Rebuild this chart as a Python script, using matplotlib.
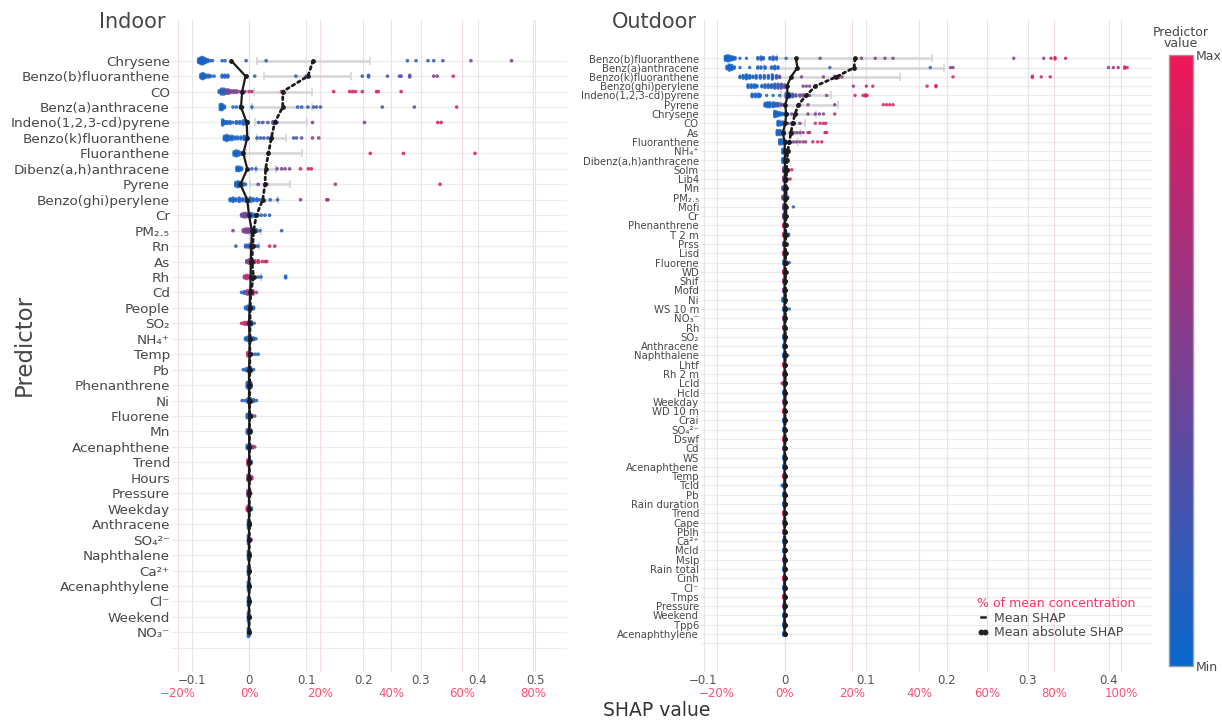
import numpy as np
import matplotlib as mpl
import matplotlib.pyplot as plt
from matplotlib.colors import LinearSegmentedColormap, Normalize
from matplotlib.lines import Line2D

plt.rcParams['font.family'] = 'DejaVu Sans'

# ---------------- indoor panel ----------------
indoor_labels = ["Chrysene", "Benzo(b)fluoranthene", "CO", "Benz(a)anthracene",
                 "Indeno(1,2,3-cd)pyrene", "Benzo(k)fluoranthene", "Fluoranthene",
                 "Dibenz(a,h)anthracene", "Pyrene", "Benzo(ghi)perylene", "Cr",
                 "PM₂.₅", "Rn", "As", "Rh", "Cd", "People", "SO₂", "NH₄⁺",
                 "Temp", "Pb", "Phenanthrene", "Ni", "Fluorene", "Mn", "Acenaphthene",
                 "Trend", "Hours", "Pressure", "Weekday", "Anthracene", "SO₄²⁻",
                 "Naphthalene", "Ca²⁺", "Acenaphthylene", "Cl⁻", "Weekend", "NO₃⁻"]

indoor_mean_shap = [-0.031, -0.006, -0.012, -0.014, -0.004, -0.003, -0.010, -0.003, -0.015, -0.003,
                    0.000, 0.005, 0.004, 0.003, 0.003, 0.002, 0.001, 0.000, 0.001, 0.001,
                    0.000, 0.000, 0.000, 0.001, 0.000, 0.0005, 0.000, 0.000, 0.000, 0.000,
                    0.000, 0.000, 0.000, 0.000, 0.000, 0.000, 0.000, 0.000]

indoor_mean_abs = [0.112, 0.103, 0.059, 0.059, 0.045, 0.039, 0.034, 0.029, 0.028, 0.024,
                   0.013, 0.008, 0.0065, 0.005, 0.008, 0.003, 0.002, 0.0018, 0.0016, 0.0015,
                   0.0013, 0.0012, 0.0011, 0.001, 0.0009, 0.0008, 0.0007, 0.0007, 0.0006, 0.0006,
                   0.0005, 0.0005, 0.0004, 0.0004, 0.0003, 0.0003, 0.0002, 0.0002]

nan = np.nan
indoor_bar_lo = [0.014, 0.026, 0.009, 0.005, 0.010, 0.014, -0.005, 0.012, 0.002, 0.005,
                 nan, 0.000, 0.000, nan, 0.000] + [nan] * 23
indoor_bar_hi = [0.212, 0.179, 0.111, 0.111, 0.101, 0.064, 0.092, 0.048, 0.071, 0.050,
                 nan, 0.021, 0.017, nan, 0.021] + [nan] * 23

# dots per row: (SHAP value, predictor value 0..1, number of stacked samples)
indoor_dots = [
    [(-0.088, 0.05, 3), (-0.085, 0.05, 4), (-0.082, 0.08, 5), (-0.079, 0.08, 4), (-0.076, 0.1, 3),
     (-0.072, 0.1, 2), (-0.068, 0.1, 1), (-0.064, 0.1, 1), (-0.047, 0.1, 1), (-0.042, 0.1, 1),
     (-0.005, 0.15, 1), (0.03, 0.15, 1), (0.277, 0.15, 1), (0.292, 0.15, 1), (0.313, 0.18, 1),
     (0.323, 0.18, 1), (0.339, 0.2, 1), (0.388, 0.45, 1), (0.459, 0.5, 1)],
    [(-0.084, 0.05, 3), (-0.081, 0.05, 4), (-0.078, 0.08, 3), (-0.074, 0.08, 2), (-0.07, 0.1, 2),
     (-0.066, 0.1, 1), (-0.061, 0.1, 1), (-0.047, 0.1, 2), (-0.042, 0.1, 2), (-0.037, 0.1, 2),
     (-0.004, 0.15, 1), (0.01, 0.15, 1), (0.082, 0.2, 1), (0.1, 0.2, 1), (0.198, 0.2, 1),
     (0.209, 0.2, 2), (0.242, 0.25, 1), (0.263, 0.25, 1), (0.266, 0.3, 1), (0.281, 0.35, 2),
     (0.323, 0.55, 1), (0.329, 0.55, 1), (0.357, 0.9, 1)],
    [(-0.052, 0.1, 2), (-0.048, 0.1, 4), (-0.044, 0.2, 4), (-0.04, 0.3, 3), (-0.036, 0.45, 3),
     (-0.032, 0.5, 2), (-0.027, 0.5, 2), (-0.022, 0.55, 2), (-0.017, 0.5, 1), (-0.012, 0.6, 1),
     (-0.007, 0.65, 1), (0.0, 0.7, 1), (0.005, 0.8, 1), (0.057, 0.85, 1), (0.148, 0.9, 1),
     (0.176, 0.95, 1), (0.181, 0.9, 1), (0.186, 0.95, 1), (0.198, 0.9, 1), (0.223, 0.95, 1),
     (0.226, 0.9, 1), (0.266, 0.9, 1)],
    [(-0.05, 0.05, 4), (-0.047, 0.05, 4), (-0.043, 0.08, 2), (-0.028, 0.1, 1), (-0.022, 0.1, 1),
     (-0.015, 0.1, 2), (-0.011, 0.1, 1), (0.005, 0.15, 1), (0.085, 0.15, 1), (0.092, 0.15, 1),
     (0.103, 0.2, 1), (0.113, 0.2, 1), (0.118, 0.2, 1), (0.125, 0.2, 1), (0.233, 0.25, 1),
     (0.289, 0.3, 1), (0.363, 0.9, 1)],
    [(-0.046, 0.05, 4), (-0.042, 0.05, 2), (-0.038, 0.1, 2), (-0.033, 0.1, 2), (-0.028, 0.1, 1),
     (-0.022, 0.1, 2), (-0.016, 0.1, 2), (-0.01, 0.1, 3), (-0.005, 0.1, 3), (-0.002, 0.1, 2),
     (0.017, 0.15, 1), (0.024, 0.2, 1), (0.033, 0.3, 1), (0.042, 0.4, 2), (0.049, 0.45, 1),
     (0.111, 0.55, 1), (0.202, 0.55, 1), (0.33, 0.85, 1), (0.336, 0.85, 1)],
    [(-0.043, 0.05, 3), (-0.039, 0.05, 4), (-0.035, 0.08, 3), (-0.03, 0.1, 3), (-0.025, 0.1, 2),
     (-0.02, 0.1, 2), (-0.014, 0.1, 2), (-0.008, 0.1, 3), (-0.003, 0.1, 2), (0.014, 0.15, 1),
     (0.02, 0.15, 1), (0.026, 0.2, 1), (0.033, 0.2, 1), (0.04, 0.2, 2), (0.078, 0.25, 1),
     (0.083, 0.25, 1), (0.092, 0.3, 1), (0.111, 0.7, 1), (0.122, 0.55, 1)],
    [(-0.026, 0.05, 3), (-0.022, 0.05, 4), (-0.018, 0.08, 3), (-0.013, 0.1, 2), (0.212, 0.9, 1),
     (0.27, 0.9, 1), (0.395, 0.9, 1)],
    [(-0.021, 0.05, 3), (-0.017, 0.05, 3), (-0.013, 0.1, 2), (0.005, 0.15, 1), (0.012, 0.15, 1),
     (0.049, 0.45, 1), (0.057, 0.5, 1), (0.063, 0.5, 1), (0.071, 0.45, 1), (0.09, 0.9, 1),
     (0.104, 0.85, 1), (0.109, 0.9, 1)],
    [(-0.023, 0.05, 3), (-0.019, 0.05, 4), (-0.015, 0.08, 3), (-0.01, 0.1, 2), (-0.006, 0.1, 1),
     (0.016, 0.5, 1), (0.031, 0.5, 1), (0.151, 0.6, 1), (0.334, 0.9, 1)],
    [(-0.033, 0.05, 2), (-0.028, 0.05, 3), (-0.023, 0.08, 2), (-0.017, 0.1, 3), (-0.011, 0.1, 2),
     (-0.005, 0.1, 3), (0.002, 0.1, 3), (0.008, 0.1, 2), (0.014, 0.1, 2), (0.019, 0.1, 1),
     (0.037, 0.15, 1), (0.05, 0.15, 1), (0.09, 0.55, 1), (0.136, 0.85, 1), (0.138, 0.6, 1)],
    [(-0.013, 0.3, 2), (-0.009, 0.5, 3), (-0.005, 0.4, 3), (-0.001, 0.1, 2), (0.004, 0.1, 3),
     (0.009, 0.1, 2), (0.016, 0.1, 1), (0.022, 0.1, 1), (0.028, 0.1, 1), (0.036, 0.1, 1)],
    [(-0.028, 0.55, 1), (-0.01, 0.5, 2), (-0.006, 0.5, 3), (-0.002, 0.5, 3), (0.003, 0.2, 3),
     (0.008, 0.1, 3), (0.013, 0.15, 2), (0.019, 0.1, 1), (0.057, 0.1, 1)],
    [(-0.023, 0.1, 1), (-0.006, 0.1, 2), (-0.002, 0.1, 2), (0.003, 0.5, 3), (0.008, 0.7, 2),
     (0.012, 0.3, 1), (0.016, 0.2, 1), (0.036, 0.85, 1), (0.045, 0.7, 1)],
    [(-0.004, 0.5, 2), (0.0, 0.6, 3), (0.005, 0.8, 3), (0.01, 0.85, 2), (0.016, 0.9, 2),
     (0.023, 0.9, 1), (0.028, 0.85, 1), (0.031, 0.9, 1)],
    [(-0.008, 0.6, 2), (-0.004, 0.85, 3), (0.0, 0.7, 2), (0.003, 0.4, 2), (0.016, 0.2, 1),
     (0.021, 0.1, 1), (0.064, 0.05, 2)],
    [(-0.013, 0.1, 1), (-0.008, 0.2, 2), (-0.003, 0.6, 3), (0.002, 0.9, 4), (0.007, 0.85, 3),
     (0.013, 0.6, 1)],
    [(-0.006, 0.1, 2), (-0.002, 0.1, 3), (0.003, 0.15, 3), (0.008, 0.1, 2)],
    [(-0.013, 0.9, 1), (-0.008, 0.85, 2), (-0.004, 0.7, 2), (0.0, 0.3, 3), (0.004, 0.15, 3),
     (0.009, 0.1, 1)],
    [(-0.006, 0.1, 2), (-0.002, 0.1, 3), (0.003, 0.1, 3), (0.008, 0.15, 2), (0.012, 0.1, 1)],
    [(-0.002, 0.8, 3), (0.002, 0.6, 2), (0.006, 0.2, 1), (0.011, 0.1, 1), (0.016, 0.1, 1)],
    [(-0.01, 0.1, 1), (-0.005, 0.1, 2), (-0.001, 0.1, 3), (0.003, 0.1, 3), (0.008, 0.1, 1)],
    [(-0.003, 0.1, 4), (0.0, 0.1, 5), (0.003, 0.1, 4)],
    [(-0.012, 0.2, 1), (-0.007, 0.1, 1), (-0.002, 0.1, 3), (0.003, 0.1, 3), (0.008, 0.1, 2),
     (0.013, 0.1, 1)],
    [(-0.003, 0.1, 3), (0.001, 0.1, 4), (0.005, 0.3, 2), (0.01, 0.55, 1)],
    [(-0.003, 0.3, 3), (0.0, 0.2, 4), (0.003, 0.1, 3)],
    [(-0.003, 0.1, 3), (0.001, 0.2, 4), (0.006, 0.7, 2), (0.01, 0.6, 1)],
    [(-0.002, 0.85, 4), (0.001, 0.5, 4), (0.004, 0.2, 2)],
    [(-0.002, 0.6, 4), (0.001, 0.5, 4), (0.005, 0.85, 2)],
    [(-0.002, 0.6, 4), (0.001, 0.5, 5), (0.003, 0.3, 1)],
    [(-0.003, 0.85, 3), (0.0, 0.5, 5), (0.004, 0.1, 2)],
    [(-0.001, 0.1, 6), (0.002, 0.1, 3)],
    [(-0.001, 0.1, 6), (0.002, 0.3, 2), (0.004, 0.9, 1)],
    [(-0.001, 0.1, 6), (0.002, 0.1, 3)],
    [(-0.001, 0.1, 6), (0.001, 0.1, 4)],
    [(-0.001, 0.1, 6), (0.001, 0.1, 4)],
    [(-0.001, 0.1, 6), (0.001, 0.1, 4)],
    [(-0.001, 0.1, 6), (0.001, 0.5, 3)],
    [(-0.001, 0.1, 6), (0.001, 0.1, 4)],
]

# ---------------- outdoor panel ----------------
outdoor_labels = ["Benzo(b)fluoranthene", "Benz(a)anthracene", "Benzo(k)fluoranthene",
                  "Benzo(ghi)perylene", "Indeno(1,2,3-cd)pyrene", "Pyrene", "Chrysene", "CO",
                  "As", "Fluoranthene", "NH₄⁺", "Dibenz(a,h)anthracene", "Solm", "Lib4",
                  "Mn", "PM₂.₅", "Mofi", "Cr", "Phenanthrene", "T 2 m", "Prss", "Lisd",
                  "Fluorene", "WD", "Shif", "Mofd", "Ni", "WS 10 m", "NO₃⁻", "Rh",
                  "SO₂", "Anthracene", "Naphthalene", "Lhtf", "Rh 2 m", "Lcld", "Hcld",
                  "Weekday", "WD 10 m", "Crai", "SO₄²⁻", "Dswf", "Cd", "WS",
                  "Acenaphthene", "Temp", "Tcld", "Pb", "Rain duration", "Trend", "Cape",
                  "Pblh", "Ca²⁺", "Mcld", "Mslp", "Rain total", "Cinh", "Cl⁻", "Tmps",
                  "Pressure", "Weekend", "Tpp6", "Acenaphthylene"]

outdoor_mean_shap = [0.014, 0.016, 0.008, 0.003, 0.004, 0.001, 0.002, 0.001, -0.002, 0.000,
                     0.0005, 0.0005, 0.0005, 0.0004, 0.0003, 0.0003, 0.0003, 0.0002, 0.0002, 0.0002] + [0.0] * 43

outdoor_mean_abs = [0.087, 0.086, 0.064, 0.038, 0.027, 0.017, 0.013, 0.010, 0.008, 0.006,
                    0.004, 0.003, 0.0026, 0.0023, 0.002, 0.0019, 0.0018, 0.0017, 0.0016, 0.0015,
                    0.0014, 0.0014, 0.0013, 0.0013, 0.0012, 0.0012, 0.0011, 0.0011, 0.001, 0.001,
                    0.001, 0.0009, 0.0009, 0.0009, 0.0008, 0.0008, 0.0008, 0.0007, 0.0007, 0.0007,
                    0.0006, 0.0006, 0.0006, 0.0005, 0.0005, 0.0005, 0.0005, 0.0004, 0.0004, 0.0004,
                    0.0004, 0.0003, 0.0003, 0.0003, 0.0003, 0.0003, 0.0002, 0.0002, 0.0002, 0.0002,
                    0.0002, 0.0002, 0.0002]

outdoor_bar_lo = [-0.009, -0.025, -0.015, nan, -0.004, -0.005, -0.010, -0.005, -0.004, -0.004] + [nan] * 53
outdoor_bar_hi = [0.182, 0.197, 0.143, nan, 0.058, 0.066, 0.039, 0.025, 0.020, 0.017] + [nan] * 53

blue_pair = [(-0.001, 0.1, 3), (0.001, 0.1, 3)]
outdoor_dots = [
    [(-0.073, 0.05, 4), (-0.07, 0.05, 5), (-0.067, 0.05, 4), (-0.064, 0.05, 3), (-0.061, 0.08, 2),
     (-0.055, 0.1, 1), (-0.047, 0.1, 1), (-0.033, 0.1, 2), (-0.029, 0.1, 3), (-0.026, 0.1, 2),
     (-0.018, 0.1, 2), (-0.014, 0.12, 3), (-0.01, 0.15, 2), (0.002, 0.2, 1), (0.044, 0.35, 1),
     (0.095, 0.5, 1), (0.112, 0.5, 1), (0.124, 0.5, 1), (0.134, 0.5, 1), (0.283, 0.5, 1),
     (0.32, 0.6, 1), (0.329, 0.85, 1), (0.334, 0.9, 2), (0.347, 0.85, 1)],
    [(-0.071, 0.05, 3), (-0.068, 0.05, 5), (-0.065, 0.05, 4), (-0.062, 0.08, 2), (-0.055, 0.1, 1),
     (-0.043, 0.1, 1), (-0.033, 0.1, 2), (-0.029, 0.1, 2), (-0.024, 0.1, 2), (-0.016, 0.1, 2),
     (-0.012, 0.1, 3), (-0.008, 0.12, 2), (0.056, 0.2, 1), (0.18, 0.2, 1), (0.205, 0.5, 1),
     (0.208, 0.55, 1), (0.4, 0.5, 1), (0.406, 0.55, 1), (0.412, 0.9, 1), (0.42, 0.9, 2),
     (0.423, 0.9, 1)],
    [(-0.055, 0.05, 2), (-0.051, 0.05, 3), (-0.047, 0.05, 4), (-0.043, 0.08, 3), (-0.039, 0.08, 2),
     (-0.035, 0.1, 3), (-0.03, 0.1, 3), (-0.025, 0.1, 3), (-0.02, 0.1, 3), (-0.015, 0.12, 4),
     (-0.01, 0.15, 3), (-0.006, 0.45, 2), (0.021, 0.5, 1), (0.048, 0.55, 1), (0.062, 0.5, 2),
     (0.067, 0.55, 2), (0.071, 0.6, 1), (0.208, 0.9, 1), (0.306, 0.9, 2), (0.317, 0.9, 1),
     (0.328, 0.85, 1)],
    [(-0.045, 0.05, 3), (-0.041, 0.05, 3), (-0.037, 0.05, 3), (-0.034, 0.08, 2), (-0.028, 0.1, 2),
     (-0.024, 0.1, 3), (-0.02, 0.1, 3), (-0.016, 0.12, 3), (-0.012, 0.15, 4), (-0.008, 0.2, 4),
     (-0.004, 0.35, 4), (0.0, 0.4, 3), (0.023, 0.5, 1), (0.027, 0.55, 1), (0.031, 0.5, 1),
     (0.038, 0.5, 1), (0.085, 0.6, 1), (0.101, 0.85, 1), (0.109, 0.85, 1), (0.176, 0.9, 1),
     (0.187, 0.95, 2)],
    [(-0.04, 0.05, 3), (-0.036, 0.05, 3), (-0.032, 0.08, 3), (-0.03, 0.1, 2), (-0.022, 0.1, 1),
     (-0.014, 0.1, 1), (-0.006, 0.1, 1), (0.002, 0.1, 4), (0.006, 0.12, 4), (0.01, 0.2, 3),
     (0.014, 0.35, 2), (0.019, 0.45, 2), (0.023, 0.5, 2), (0.027, 0.5, 1), (0.031, 0.55, 1),
     (0.052, 0.55, 1), (0.087, 0.9, 1), (0.097, 0.85, 1), (0.1, 0.9, 2), (0.102, 0.9, 1)],
    [(-0.024, 0.05, 3), (-0.021, 0.05, 4), (-0.018, 0.08, 4), (-0.014, 0.1, 4), (-0.011, 0.12, 3),
     (-0.008, 0.2, 3), (-0.004, 0.4, 2), (0.0, 0.45, 2), (0.019, 0.5, 1), (0.029, 0.55, 1),
     (0.062, 0.5, 1), (0.122, 0.9, 1), (0.126, 0.9, 1), (0.13, 0.9, 1), (0.134, 0.85, 1)],
    [(-0.012, 0.05, 5), (-0.009, 0.05, 4), (-0.006, 0.08, 3), (-0.003, 0.1, 2), (0.0, 0.12, 2),
     (0.004, 0.4, 1), (0.009, 0.5, 1), (0.015, 0.45, 1), (0.029, 0.5, 1), (0.038, 0.55, 1),
     (0.043, 0.5, 1), (0.048, 0.55, 1), (0.062, 0.9, 1)],
    [(-0.008, 0.05, 4), (-0.005, 0.08, 3), (-0.002, 0.1, 3), (0.0, 0.15, 2), (0.004, 0.45, 1),
     (0.008, 0.5, 1), (0.012, 0.5, 1), (0.019, 0.55, 1), (0.038, 0.9, 1), (0.044, 0.85, 1),
     (0.048, 0.9, 1), (0.051, 0.9, 1)],
    [(-0.009, 0.05, 4), (-0.006, 0.08, 4), (-0.003, 0.1, 3), (0.0, 0.15, 2), (0.007, 0.5, 1),
     (0.011, 0.45, 1), (0.015, 0.5, 1), (0.019, 0.55, 1), (0.023, 0.6, 1), (0.029, 0.7, 1),
     (0.031, 0.75, 1), (0.05, 0.9, 1), (0.052, 0.9, 1)],
    [(-0.006, 0.05, 4), (-0.003, 0.08, 4), (0.0, 0.1, 3), (0.002, 0.15, 2), (0.007, 0.5, 1),
     (0.011, 0.45, 1), (0.015, 0.5, 1), (0.019, 0.55, 1), (0.023, 0.6, 1), (0.026, 0.65, 1),
     (0.035, 0.8, 1), (0.041, 0.85, 1), (0.046, 0.9, 1)],
    [(-0.002, 0.05, 4), (0.0, 0.1, 4), (0.003, 0.1, 3)],
    [(-0.002, 0.05, 4), (0.0, 0.1, 4), (0.003, 0.1, 3)],
    [(-0.001, 0.5, 4), (0.001, 0.4, 3), (0.005, 0.9, 1), (0.009, 0.9, 1)],
    [(-0.001, 0.5, 4), (0.001, 0.6, 3), (0.007, 0.9, 1)],
    [(-0.002, 0.3, 3), (0.0, 0.45, 4), (0.003, 0.2, 2)],
    [(-0.002, 0.5, 3), (0.0, 0.55, 4), (0.004, 0.45, 2)],
    [(-0.001, 0.5, 4), (0.001, 0.55, 3), (0.011, 0.1, 1)],
    [(-0.001, 0.4, 4), (0.001, 0.15, 3)],
    [(-0.001, 0.8, 3), (0.001, 0.9, 3), (0.003, 0.85, 1)],
    [(-0.001, 0.85, 3), (0.001, 0.9, 3), (0.005, 0.1, 2)],
    [(-0.001, 0.5, 3), (0.001, 0.6, 3)],
    [(-0.001, 0.8, 3), (0.001, 0.6, 3)],
    [(-0.001, 0.1, 3), (0.002, 0.1, 3), (0.006, 0.1, 1)],
    [(-0.001, 0.85, 3), (0.001, 0.6, 3)],
    [(-0.001, 0.6, 3), (0.001, 0.5, 3)],
    [(-0.001, 0.5, 3), (0.001, 0.55, 3)],
    [(-0.002, 0.1, 3), (0.001, 0.1, 3)],
    [(-0.001, 0.1, 3), (0.002, 0.1, 3), (0.006, 0.1, 1)],
    [(-0.001, 0.5, 3), (0.001, 0.6, 3)],
    [(-0.001, 0.55, 3), (0.001, 0.5, 3)],
    [(-0.001, 0.1, 3), (0.001, 0.3, 3)],
    blue_pair,
    [(-0.001, 0.1, 3), (0.002, 0.15, 3), (0.004, 0.1, 1)],
    [(-0.001, 0.85, 3), (0.001, 0.9, 3)],
    [(-0.001, 0.6, 3), (0.001, 0.5, 3)],
    [(-0.003, 0.9, 1), (-0.001, 0.6, 3), (0.001, 0.5, 3)],
    [(-0.001, 0.1, 3), (0.001, 0.2, 3)],
    [(-0.001, 0.6, 3), (0.001, 0.5, 3)],
    [(-0.001, 0.85, 3), (0.001, 0.7, 3)],
    [(-0.001, 0.1, 3), (0.001, 0.2, 3)],
    [(-0.001, 0.1, 3), (0.001, 0.15, 3)],
    [(-0.001, 0.9, 3), (0.001, 0.6, 3)],
    [(-0.001, 0.5, 3), (0.001, 0.55, 3)],
    [(-0.001, 0.1, 3), (0.001, 0.5, 3)],
    blue_pair,
    [(-0.001, 0.9, 3), (0.001, 0.85, 3)],
    [(-0.003, 0.1, 1), (-0.001, 0.1, 3), (0.001, 0.1, 3)],
    blue_pair,
    [(-0.001, 0.1, 3), (0.001, 0.2, 3)],
    [(-0.001, 0.9, 3), (0.001, 0.85, 3)],
    [(-0.001, 0.55, 3), (0.001, 0.5, 3)],
    [(-0.001, 0.5, 3), (0.001, 0.55, 3)],
    blue_pair,
    [(-0.001, 0.1, 3), (0.001, 0.15, 3)],
    [(-0.001, 0.5, 3), (0.001, 0.55, 3)],
    blue_pair,
    [(-0.001, 0.9, 3), (0.001, 0.85, 3)],
    blue_pair,
    [(-0.001, 0.9, 3), (0.001, 0.6, 3)],
    [(-0.001, 0.5, 3), (0.001, 0.6, 3)],
    blue_pair,
    blue_pair,
    blue_pair,
]

indoor_shap_ticks = [-0.1, 0, 0.1, 0.2, 0.3, 0.4, 0.5]
indoor_pct_ticks = [-20, 0, 20, 40, 60, 80]
outdoor_shap_ticks = [-0.1, 0, 0.1, 0.2, 0.3, 0.4]
outdoor_pct_ticks = [-20, 0, 20, 40, 60, 80, 100]
indoor_full_conc = 0.6206    # SHAP value that equals 100 % of the mean concentration
outdoor_full_conc = 0.416

# ---------------- drawing ----------------
text_col = '#474747'
pink = '#ff4f73'
cmap = LinearSegmentedColormap.from_list('shap', ['#0868cc', '#ef1656'])

W, H = 1222, 722
fig = plt.figure(figsize=(W / 100, H / 100), dpi=100)


def fmt_num(v):
    if v == 0:
        return '0'
    return f'{v:g}'.replace('-', '\u2212')


def draw_panel(ax, labels, mean_shap, mean_abs, bar_lo, bar_hi, dots,
               shap_ticks, pct_ticks, full_conc, row_px, step_px, dot_s, label_size):
    n = len(labels)
    rows = np.arange(n)

    # grid
    for r in range(n + 1):
        ax.axhline(r, color='#ececec', lw=0.8, zorder=0)
    for t in shap_ticks:
        ax.axvline(t, color='#e6e6e6', lw=0.8, zorder=0)
    for p in pct_ticks:
        ax.axvline(p * full_conc / 100, color='#f6dce3', lw=0.8, zorder=0)

    # spread bars
    lo = np.array(bar_lo, dtype=float)
    hi = np.array(bar_hi, dtype=float)
    ok = ~np.isnan(lo)
    ax.errorbar((lo[ok] + hi[ok]) / 2, rows[ok], xerr=(hi[ok] - lo[ok]) / 2, fmt='none',
                ecolor='#d6d6d6', elinewidth=1.8, capsize=3, capthick=1.2, zorder=1)

    # stacked dots
    step = step_px / row_px
    xs, ys, cs = [], [], []
    for r, row in enumerate(dots):
        for x, c, k in row:
            for j in range(k):
                xs.append(x)
                ys.append(r + (j - (k - 1) / 2) * step)
                cs.append(c)
    ax.scatter(xs, ys, c=cs, cmap=cmap, vmin=0, vmax=1, s=dot_s, linewidths=0,
               alpha=0.85, zorder=2)

    ax.plot(mean_shap, rows, color='#1c1c1c', lw=1.6, marker='o', ms=2.4, zorder=4)
    ax.plot(mean_abs, rows, color='#1c1c1c', lw=2.0, ls=(0, (1, 1.3)),
            dash_capstyle='round', marker='o', ms=2.4, zorder=4)

    ax.set_yticks(rows, labels=labels)
    ax.tick_params(axis='y', length=0, pad=1.5, labelsize=label_size, labelcolor=text_col)
    ax.set_xticks(shap_ticks, labels=[fmt_num(t) for t in shap_ticks])
    ax.tick_params(axis='x', length=0, pad=1.2, labelsize=8.5, labelcolor='#555555')
    for s in ax.spines.values():
        s.set_visible(False)

    sec = ax.secondary_xaxis('bottom', functions=(lambda v: v / full_conc * 100,
                                                  lambda p: p * full_conc / 100))
    sec.set_xticks(pct_ticks, labels=[fmt_num(p) + '%' for p in pct_ticks])
    sec.tick_params(length=0, pad=10.8, labelsize=8.5, labelcolor=pink)
    for s in sec.spines.values():
        s.set_visible(False)


ax_in = fig.add_axes([172 / W, 1 - 672 / H, 395 / W, 652 / H])
ax_in.set_xlim((172 - 249) / 572, (567 - 249) / 572)
ax_in.set_ylim((672 - 60.7) / 15.45, (20 - 60.7) / 15.45)
draw_panel(ax_in, indoor_labels, indoor_mean_shap, indoor_mean_abs, indoor_bar_lo,
           indoor_bar_hi, indoor_dots, indoor_shap_ticks, indoor_pct_ticks,
           indoor_full_conc, 15.45, 1.6, 7, 9.7)

ax_out = fig.add_axes([701 / W, 1 - 672 / H, 451 / W, 652 / H])
ax_out.set_xlim((701 - 784.5) / 810, (1152 - 784.5) / 810)
ax_out.set_ylim((672 - 58.3) / 9.286, (20 - 58.3) / 9.286)
draw_panel(ax_out, outdoor_labels, outdoor_mean_shap, outdoor_mean_abs, outdoor_bar_lo,
           outdoor_bar_hi, outdoor_dots, outdoor_shap_ticks, outdoor_pct_ticks,
           outdoor_full_conc, 9.286, 1.3, 6, 7.3)

# titles and axis names
fig.text(165 / W, 1 - 22 / H, 'Indoor', ha='right', va='center', fontsize=15, color=text_col)
fig.text(697 / W, 1 - 22 / H, 'Outdoor', ha='right', va='center', fontsize=15, color=text_col)
fig.text(24 / W, 1 - 345 / H, 'Predictor', rotation=90, ha='center', va='center',
         fontsize=16.5, color=text_col)
fig.text(657 / W, 1 - 711 / H, 'SHAP value', ha='center', va='center', fontsize=13.5,
         color='#333333')

# colour bar
cax = fig.add_axes([1169 / W, 1 - 666 / H, 24 / W, 611 / H])
cb = mpl.colorbar.ColorbarBase(cax, cmap=cmap, norm=Normalize(0, 1), orientation='vertical')
cb.set_ticks([0, 1], labels=['Min', 'Max'])
cax.tick_params(length=0, pad=2, labelsize=9, labelcolor=text_col)
cb.outline.set_edgecolor('#9a9a9a')
cb.outline.set_linewidth(1)
fig.text(1181 / W, 1 - 38 / H, 'Predictor\nvalue', ha='center', va='center', fontsize=9,
         color=text_col, linespacing=0.85)

# legend
handles = [Line2D([], [], color='#222222', lw=1.8),
           Line2D([], [], color='#222222', ls='none', marker='o', ms=3.2)]
leg = fig.legend(handles, ['Mean SHAP', 'Mean absolute SHAP'], loc='upper left',
                 bbox_to_anchor=(977 / W, 1 - 597 / H), frameon=False,
                 title='% of mean concentration', fontsize=9, title_fontsize=9,
                 handlelength=0.9, handletextpad=0.5, labelspacing=0.12, borderpad=0,
                 borderaxespad=0, numpoints=2, alignment='left', labelcolor=text_col)
leg.get_title().set_color('#ff3366')

fig.savefig('out.png', dpi=100, facecolor='white')
